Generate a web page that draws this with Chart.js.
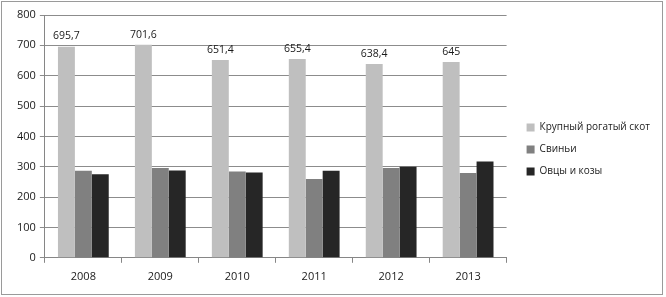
<!DOCTYPE html>
<html lang="ru">
<head>
<meta charset="UTF-8">
<title>Поголовье скота</title>
<script src="https://cdn.jsdelivr.net/npm/chart.js"></script>
<style>
    body { margin: 0; background: #fff; }
    .frame {
        position: absolute; left: 1px; top: 1px;
        width: 662px; height: 294px;
        border: 1px solid #9a9a9a;
        box-sizing: border-box;
    }
    .wrap { position: absolute; left: 0; top: 0; width: 666px; height: 297px; }
</style>
</head>
<body>
<div class="frame"></div>
<div class="wrap"><canvas id="chart" width="666" height="297"></canvas></div>

<script>
    const years = ['2008', '2009', '2010', '2011', '2012', '2013'];
    const cattle = [695.7, 701.6, 651.4, 655.4, 638.4, 645];
    const pigs = [287, 296, 284, 260, 296, 279];
    const sheepGoats = [275, 288, 281, 287, 300, 317];
    const yTicks = [0, 100, 200, 300, 400, 500, 600, 700, 800];

    // подписи значений над первым рядом
    const valueLabels = {
        id: 'valueLabels',
        afterDatasetsDraw(chart) {
            const ctx = chart.ctx;
            const meta = chart.getDatasetMeta(0);
            ctx.save();
            ctx.font = '10.5px "Open Sans"';
            ctx.fillStyle = '#1a1a1a';
            ctx.textAlign = 'center';
            ctx.textBaseline = 'bottom';
            meta.data.forEach((bar, i) => {
                ctx.fillText(String(cattle[i]).replace('.', ','), bar.x, bar.y - 5);
            });
            ctx.restore();
        }
    };

    // сдвиг легенды чуть правее, как в оригинале
    const legendShift = {
        id: 'legendShift',
        afterLayout(chart) {
            const lg = chart.legend;
            if (!lg) return;
            const dx = 8, dy = -3;
            lg.left += dx; lg.right += dx;
            lg.top += dy; lg.bottom += dy;
        }
    };

    const ctx = document.getElementById('chart').getContext('2d');

    new Chart(ctx, {
        type: 'bar',
        data: {
            labels: years,
            datasets: [
                { label: 'Крупный рогатый скот', data: cattle, backgroundColor: '#bfbfbf' },
                { label: 'Свиньи', data: pigs, backgroundColor: '#808080' },
                { label: 'Овцы и козы', data: sheepGoats, backgroundColor: '#262626' }
            ]
        },
        options: {
            responsive: false,
            animation: false,
            devicePixelRatio: 1,
            layout: { padding: { left: 13, top: 15, right: 14, bottom: 7 } },
            datasets: { bar: { categoryPercentage: 0.66, barPercentage: 1 } },
            scales: {
                x: {
                    grid: { display: true, drawOnChartArea: false, offset: true, tickLength: 5, color: '#868686' },
                    border: { color: '#868686' },
                    ticks: { color: '#1a1a1a', font: { family: 'Open Sans', size: 11 }, padding: 7 }
                },
                y: {
                    min: 0,
                    max: 800,
                    afterBuildTicks(axis) { axis.ticks = yTicks.map(v => ({ value: v })); },
                    grid: { color: '#8c8c8c', tickLength: 5 },
                    border: { color: '#868686' },
                    ticks: { color: '#1a1a1a', font: { family: 'Open Sans', size: 11 }, padding: 4 }
                }
            },
            plugins: {
                legend: {
                    position: 'right',
                    labels: {
                        color: '#1a1a1a',
                        font: { family: 'Open Sans', size: 10 },
                        boxWidth: 8,
                        boxHeight: 8,
                        padding: 12
                    }
                },
                tooltip: { enabled: false }
            }
        },
        plugins: [legendShift, valueLabels]
    });
</script>
</body>
</html>
